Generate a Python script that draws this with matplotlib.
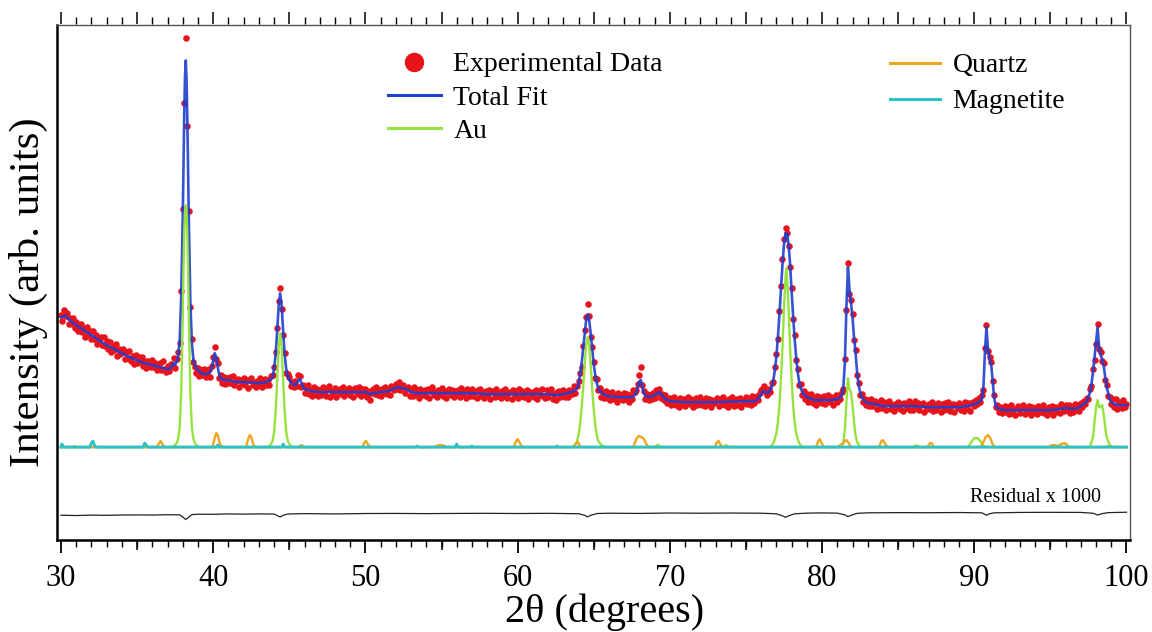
import numpy as np
import matplotlib
matplotlib.use('Agg')
import matplotlib.pyplot as plt
from matplotlib.lines import Line2D
from matplotlib.ticker import MultipleLocator

plt.rcParams['font.family'] = ['Liberation Serif', 'DejaVu Serif']

# ---------------- data ----------------
exp_start = 30.0
exp_step = 0.1
exp_y = [
    132,126,137,131,134,123,129,123,129,119,
    125,116,121,123,115,119,110,120,113,116,
    108,116,108,112,103,108,110,102,110,101,
    106,98,105,95,100,97,103,91,98,93,
    95,98,88,95,89,96,86,91,83,92,
    84,90,85,90,81,86,79,86,84,80,
    87,80,84,77,82,84,77,86,78,75,
    81,76,83,81,89,79,88,95,104,156,
    238,344,409,321,236,140,108,85,80,74,
    79,71,77,72,78,70,74,78,70,81,
    90,100,88,84,69,72,64,70,63,69,
    64,70,64,71,62,66,68,60,67,64,
    69,62,67,59,67,69,62,65,60,66,
    62,69,60,66,68,62,67,62,71,72,
    80,95,119,146,159,138,112,94,74,73,
    70,61,65,60,66,61,72,71,60,62,
    54,60,62,53,57,51,60,53,58,51,
    57,52,60,54,51,58,61,50,56,53,
    59,50,56,58,53,60,51,57,54,59,
    52,57,50,59,56,53,60,51,58,54,
    58,50,56,47,54,58,53,60,52,57,
    51,58,54,60,53,58,52,61,59,57,
    63,58,65,57,61,62,54,59,60,51,
    57,51,60,53,57,49,58,52,55,57,
    51,58,49,56,60,52,55,50,57,53,
    59,51,56,49,55,58,52,57,50,56,
    52,57,50,59,53,56,49,58,55,51,
    58,51,55,49,57,58,51,54,49,56,
    52,57,48,55,56,50,58,51,54,49,
    56,51,58,49,54,55,48,57,52,56,
    49,58,51,56,50,54,57,48,55,52,
    55,50,57,48,56,52,58,51,49,57,
    50,55,58,48,53,47,55,56,50,54,
    57,50,55,50,57,56,53,61,54,61,
    66,74,80,101,117,130,143,131,110,100,
    85,69,68,57,59,50,55,49,56,49,
    54,47,55,48,51,45,54,49,52,47,
    54,48,53,45,52,48,57,55,57,63,
    72,80,62,56,48,53,47,52,48,54,
    49,57,54,58,49,53,47,52,44,47,
    49,42,47,50,42,46,40,49,43,48,
    41,47,50,43,48,40,46,49,42,47,
    50,42,46,41,49,43,48,40,47,44,
    47,49,41,48,43,50,42,46,40,48,
    43,50,41,47,48,42,49,40,46,44,
    50,43,48,42,51,44,48,51,47,54,
    57,59,61,55,52,58,55,64,65,80,
    93,108,136,161,188,208,219,214,201,180,
    159,128,112,87,78,62,63,52,56,48,
    53,45,50,53,44,48,42,51,45,50,
    44,51,43,49,52,45,50,42,49,52,
    45,52,48,55,58,88,137,184,153,147,
    133,107,97,72,64,52,53,45,48,42,
    47,41,48,41,44,46,38,44,39,47,
    39,45,37,44,46,38,42,36,43,40,
    45,38,43,36,44,42,39,46,37,43,
    37,46,40,44,37,42,44,35,41,38,
    43,38,45,36,42,37,44,41,35,43,
    37,44,38,45,36,41,43,35,42,39,
    44,37,41,36,45,39,44,36,44,45,
    41,47,43,49,45,52,57,99,122,96,
    90,85,66,52,40,42,35,40,34,39,
    41,35,40,33,42,34,38,32,39,41,
    34,39,42,33,38,35,41,32,40,36,
    39,33,41,35,40,42,34,38,32,40,
    36,41,32,40,35,40,34,43,40,36,
    42,37,42,34,40,35,43,37,42,36,
    44,40,46,43,49,48,58,61,78,87,
    103,123,98,95,86,84,67,62,51,50,
    43,48,40,48,38,44,45,39,47,40,
    43,
]

fit_x = [30.0, 30.2, 30.3, 30.5, 31, 31.5, 32, 32.5, 33, 33.5, 34, 34.5, 35, 35.5, 36, 36.5, 37,
         37.2, 37.4, 37.5, 37.6, 37.7, 37.8, 37.9, 38.0, 38.05, 38.1, 38.15, 38.2, 38.25, 38.3,
         38.35, 38.4, 38.5, 38.6, 38.7, 38.8, 38.9, 39.0, 39.2, 39.5, 39.7, 39.8, 39.9, 40.0,
         40.1, 40.2, 40.3, 40.4, 40.5, 40.7, 41, 41.5, 42, 43, 43.5, 43.7, 43.8, 43.9, 44.0,
         44.1, 44.2, 44.3, 44.4, 44.5, 44.6, 44.7, 44.8, 44.9, 45.0, 45.2, 45.4, 45.6, 45.7,
         45.8, 45.9, 46.0, 46.5, 47, 48, 49, 50, 50.3, 50.5, 51, 51.5, 51.8, 52.1, 52.4, 52.7,
         53.0, 53.5, 55, 57, 58, 60, 62, 62.5, 63.0, 63.5, 63.8, 63.9, 64.0, 64.1, 64.2, 64.3,
         64.4, 64.5, 64.6, 64.7, 64.8, 64.9, 65.0, 65.1, 65.2, 65.3, 65.4, 65.6, 66.0, 66.5,
         67.5, 67.7, 67.8, 67.9, 68.0, 68.1, 68.2, 68.3, 68.4, 68.6, 69.0, 69.2, 69.3, 69.5,
         69.7, 70.0, 71, 73, 75, 75.5, 75.7, 75.9, 76.0, 76.1, 76.2, 76.4, 76.5, 76.6, 76.7,
         76.8, 76.9, 77.0, 77.1, 77.2, 77.3, 77.4, 77.5, 77.6, 77.7, 77.8, 77.9, 78.0, 78.1,
         78.2, 78.3, 78.4, 78.5, 78.6, 78.7, 78.8, 79.0, 79.5, 80.5, 81.0, 81.2, 81.3, 81.4,
         81.5, 81.6, 81.7, 81.75, 81.8, 81.9, 82.0, 82.1, 82.2, 82.3, 82.4, 82.5, 82.6, 82.8,
         83.0, 83.5, 84, 86, 87, 89, 89.5, 90.0, 90.3, 90.5, 90.6, 90.7, 90.8, 90.9, 91.0,
         91.1, 91.2, 91.3, 91.4, 91.5, 91.7, 92, 95, 95.5, 96, 96.5, 96.8, 97.0, 97.2, 97.4,
         97.5, 97.6, 97.7, 97.8, 97.9, 98.0, 98.1, 98.2, 98.3, 98.4, 98.5, 98.6, 98.7, 98.8,
         98.9, 99.0, 99.2, 99.5, 100]
fit_y = [130, 131, 132, 128, 122, 117, 112, 107, 102, 98, 94, 90, 87, 84, 82, 80, 78,
         79, 84, 82, 86, 91, 107, 150, 230, 285, 333, 372, 387, 368, 330,
         282, 228, 146, 104, 88, 82, 79, 77, 74, 73, 74, 75, 78, 86,
         94, 90, 80, 72, 69, 67, 67, 65, 65, 64, 65, 67, 68, 70, 78,
         92, 115, 141, 154, 141, 115, 92, 78, 71, 67, 63, 62, 67, 68,
         64, 60, 58, 56, 55, 55, 55, 55, 53, 54, 55, 56, 58, 60, 59, 58,
         55, 54, 54, 54, 53, 53, 53, 52, 53, 55, 57, 59, 64, 72, 83, 98,
         114, 127, 133, 127, 114, 98, 83, 72, 64, 59, 56, 53, 51, 50,
         50, 52, 55, 60, 66, 67, 60, 54, 51, 50, 52, 54, 55, 52,
         48, 46, 45, 45, 46, 46, 47, 50, 53, 56, 56, 54, 55, 57, 61,
         67, 77, 91, 110, 133, 158, 183, 203, 214, 214, 203, 183, 156, 131,
         108, 90, 75, 65, 59, 55, 53, 50, 47, 47, 48, 50, 52, 60,
         85, 140, 180, 170, 158, 145, 130, 110, 95, 75, 62, 55, 50, 46,
         44, 43, 41, 41, 40, 40, 41, 43, 45, 48, 60, 95, 120, 98, 88,
         84, 68, 50, 42, 39, 38, 37, 37, 38, 39, 38, 39, 41, 43, 46,
         50, 55, 63, 75, 90, 105, 120, 100, 92, 88, 82, 70, 60, 54,
         48, 45, 43, 42, 42]

au_x = [30, 37.3, 37.5, 37.6, 37.7, 37.8, 37.9, 38.0, 38.05, 38.1, 38.15, 38.2, 38.25, 38.3,
        38.35, 38.4, 38.5, 38.6, 38.7, 38.8, 38.9, 39.1, 43.6, 43.8, 43.9, 44.0, 44.1, 44.2,
        44.3, 44.4, 44.5, 44.6, 44.7, 44.8, 44.9, 45.0, 45.2, 63.6, 63.8, 63.9, 64.0, 64.1,
        64.2, 64.3, 64.4, 64.5, 64.6, 64.7, 64.8, 64.9, 65.0, 65.1, 65.2, 65.3, 65.5, 65.8,
        69.0, 69.2, 69.4, 73.5, 73.7, 73.9, 76.6, 76.8, 76.9, 77.0, 77.1, 77.2, 77.3, 77.4,
        77.5, 77.6, 77.65, 77.7, 77.8, 77.9, 78.0, 78.1, 78.2, 78.3, 78.4, 78.5, 78.7, 81.2,
        81.4, 81.5, 81.6, 81.7, 81.8, 81.9, 82.0, 82.1, 82.2, 82.3, 82.5, 86.0, 86.2, 86.4,
        89.6, 89.8, 90.0, 90.2, 90.4, 90.6, 90.8, 97.6, 97.8, 97.9, 98.0, 98.1, 98.2, 98.3,
        98.4, 98.5, 98.6, 98.7, 98.9, 99.1, 100]
au_y = [0, 0, 2, 4, 8, 20, 55, 130, 180, 215, 237, 242, 237, 215,
        180, 130, 55, 20, 8, 4, 2, 0, 0, 3, 6, 15, 35, 65,
        100, 114, 100, 65, 35, 15, 6, 3, 0, 0, 3, 6, 12, 22,
        38, 58, 82, 102, 110, 102, 82, 58, 38, 22, 12, 6, 2, 0,
        0, 2.5, 0, 0, 2, 0, 0, 4, 8, 14, 25, 42, 68, 100,
        140, 170, 179, 170, 140, 100, 68, 42, 25, 14, 8, 4, 0, 0,
        5, 18, 45, 69, 58, 55, 42, 25, 12, 5, 0, 0, 2, 0,
        0, 5, 9, 9, 6, 1, 0, 0, 10, 25, 40, 47, 40, 40,
        42, 33, 20, 10, 2, 0, 0]

qz_x = [30, 30.8, 30.9, 31.0, 36.3, 36.45, 36.55, 36.7, 36.8, 39.95, 40.1, 40.2, 40.3, 40.45,
        40.6, 42.15, 42.3, 42.4, 42.5, 42.65, 42.8, 45.6, 45.8, 46.0, 49.8, 49.95, 50.05, 50.2,
        50.35, 54.5, 54.8, 55.1, 55.3, 59.75, 59.9, 60.0, 60.15, 60.3, 63.7, 63.85, 63.95,
        64.1, 64.2, 67.6, 67.8, 67.95, 68.15, 68.3, 68.45, 68.6, 72.95, 73.1, 73.2, 73.35,
        73.5, 79.6, 79.75, 79.85, 80.0, 80.15, 81.0, 81.2, 81.35, 81.5, 81.6, 81.75, 81.9,
        83.75, 83.9, 84.0, 84.15, 84.3, 86.9, 87.1, 87.2, 87.35, 90.4, 90.6, 90.75, 90.9,
        91.05, 91.2, 91.35, 94.9, 95.1, 95.3, 95.5, 95.7, 95.9, 96.05, 96.2, 98.6, 98.8,
        99.0, 100]
qz_y = [0, 0, 1, 0, 0, 4, 6, 2, 0, 0, 9, 14, 12, 3,
        0, 0, 8, 12, 10, 2, 0, 0, 2, 0, 0, 5, 6, 2,
        0, 0, 2, 2, 0, 0, 6, 8, 4, 0, 0, 4, 5,
        1, 0, 0, 8, 11, 10, 8, 3, 0, 0, 5, 6, 2,
        0, 0, 6, 8, 3, 0, 0, 2, 3, 6, 7, 4, 0,
        0, 6, 7, 3, 0, 0, 4, 4, 0, 0, 5, 10, 12,
        9, 3, 0, 0, 2, 2, 1, 3, 4, 3, 0, 0, 1,
        0, 0]

mg_x = [30, 30.05, 30.2, 31.9, 32.0, 32.1, 32.2, 32.3, 35.4, 35.5, 35.6, 35.7, 40.2, 40.3,
        40.4, 44.5, 44.6, 44.7, 53.3, 53.4, 53.5, 55.9, 56.0, 56.1, 56.9, 57.0, 57.1, 62.5,
        62.6, 62.7, 100]
mg_y = [0, 3, 0, 0, 4, 6, 2, 0, 0, 4, 2, 0, 0, 2,
        0, 0, 3, 0, 0, 1, 0, 0, 3, 0, 0, 1, 0, 0,
        1, 0, 0]

res_x = [30, 31, 32, 33, 34, 35, 36, 37, 37.8, 38.0, 38.2, 38.4, 38.6, 39, 40, 41, 42, 43,
         44, 44.2, 44.4, 44.6, 44.9, 46, 48, 50, 52, 54, 56, 58, 60, 62, 64, 64.4, 64.6,
         64.8, 65.2, 66, 68, 70, 72, 74, 76, 77, 77.4, 77.6, 77.8, 78.2, 79, 80, 81, 81.5,
         81.7, 81.9, 82.3, 83, 85, 87, 89, 90.5, 90.8, 91.0, 91.3, 93, 95, 97, 97.8, 98.1,
         98.4, 98.8, 100]
res_y = [-68.2, -68.5, -68.1, -68.3, -68.0, -67.9, -68.0, -67.7, -67.8, -70.0, -72.5, -70.0,
         -67.6, -67.2, -67.3, -66.9, -67.1, -66.9, -67.0, -68.5, -70.0, -68.2, -67.0, -66.6,
         -66.9, -66.5, -66.4, -66.6, -66.4, -66.3, -66.5, -66.3, -66.7, -68.3, -69.8, -68.3,
         -66.5, -66.2, -66.4, -66.0, -66.2, -66.0, -66.2, -66.8, -68.8, -70.3, -68.8, -66.8,
         -66.1, -65.9, -66.1, -67.8, -69.6, -68.3, -66.3, -65.8, -65.6, -65.7, -65.5, -65.8,
         -68.2, -66.8, -65.8, -65.4, -65.3, -65.4, -66.2, -68.0, -66.6, -65.6, -65.2]

series_labels_1 = ['Experimental Data', 'Total Fit', 'Au']
series_labels_2 = ['Quartz', 'Magnetite']
x_major = [30, 40, 50, 60, 70, 80, 90, 100]

# ---------------- style ----------------
C_EXP = '#e8141c'
C_FIT = '#1f3fcf'
C_AU = '#95e33c'
C_QZ = '#f0a51e'
C_MG = '#2dc3c6'

exp_x = np.round(exp_start + exp_step * np.arange(len(exp_y)), 2)

fig = plt.figure(figsize=(11.52, 6.32), dpi=100)
W, H = 1152, 632
ax_l, ax_r, ax_t, ax_b = 57, 1130, 24.5, 540
ax = fig.add_axes([ax_l / W, 1 - ax_b / H, (ax_r - ax_l) / W, (ax_b - ax_t) / H])

ax.plot(exp_x, exp_y, 'o', color=C_EXP, ms=4.7, mec='none', zorder=2)
ax.plot(fit_x, fit_y, color=C_FIT, lw=1.9, alpha=0.9, zorder=3)
ax.plot(au_x, au_y, color=C_AU, lw=1.7, zorder=4)
ax.plot(qz_x, qz_y, color=C_QZ, lw=1.7, zorder=5)
ax.plot(mg_x, mg_y, color=C_MG, lw=2.1, zorder=6)
ax.plot(res_x, res_y, color='#222222', lw=0.9, zorder=3)

ax.set_xlim(29.74, 100.23)
ax.set_ylim(-93, 423)
ax.set_yticks([])

ax.set_xticks(x_major)
ax.xaxis.set_minor_locator(MultipleLocator(1))
ax.tick_params(axis='x', which='major', direction='out', length=9, width=1.3,
               labelsize=22, pad=8, color='black')
ax.tick_params(axis='x', which='minor', direction='out', length=5, width=1.0)

mid = ax.secondary_xaxis('bottom')
mid.set_xticks([35, 45, 55, 65, 75, 85, 95])
mid.tick_params(length=7, width=1.1, labelbottom=False)
mid.spines['bottom'].set_visible(False)

top = ax.secondary_xaxis('top')
top.xaxis.set_major_locator(MultipleLocator(5))
top.xaxis.set_minor_locator(MultipleLocator(1))
top.tick_params(which='major', length=9, width=1.1, labeltop=False, direction='out')
top.tick_params(which='minor', length=5, width=1.0, direction='out')
top.spines['top'].set_visible(False)

for s in ['left', 'bottom']:
    ax.spines[s].set_linewidth(1.8)
    ax.spines[s].set_color('black')
for s in ['top', 'right']:
    ax.spines[s].set_linewidth(1.0)
    ax.spines[s].set_color('#555555')

fig.text(605 / W, 1 - 612 / H, '2θ (degrees)', ha='center', va='center', fontsize=29)
fig.text(28 / W, 1 - 292 / H, 'Intensity (arb. units)', ha='center', va='center',
         rotation=90, fontsize=31)

ax.text(98.3, -50, 'Residual x 1000', ha='right', va='center', fontsize=14.5)

h1 = [Line2D([], [], ls='none', marker='o', ms=13, color=C_EXP),
      Line2D([], [], color=C_FIT, lw=2.2),
      Line2D([], [], color=C_AU, lw=2.2)]
leg1 = ax.legend(h1, series_labels_1, loc='upper left',
                 bbox_to_anchor=(388 / W, 1 - 52 / H), bbox_transform=fig.transFigure,
                 frameon=False, fontsize=20, handlelength=1.9, handletextpad=0.45,
                 labelspacing=0.28, borderpad=0, borderaxespad=0)
ax.add_artist(leg1)
h2 = [Line2D([], [], color=C_QZ, lw=2.2), Line2D([], [], color=C_MG, lw=2.2)]
leg2 = ax.legend(h2, series_labels_2, loc='upper left',
                 bbox_to_anchor=(890 / W, 1 - 53 / H), bbox_transform=fig.transFigure,
                 frameon=False, fontsize=20, handlelength=1.8, handletextpad=0.45,
                 labelspacing=0.38, borderpad=0, borderaxespad=0)

fig.savefig('out.png', dpi=100)
